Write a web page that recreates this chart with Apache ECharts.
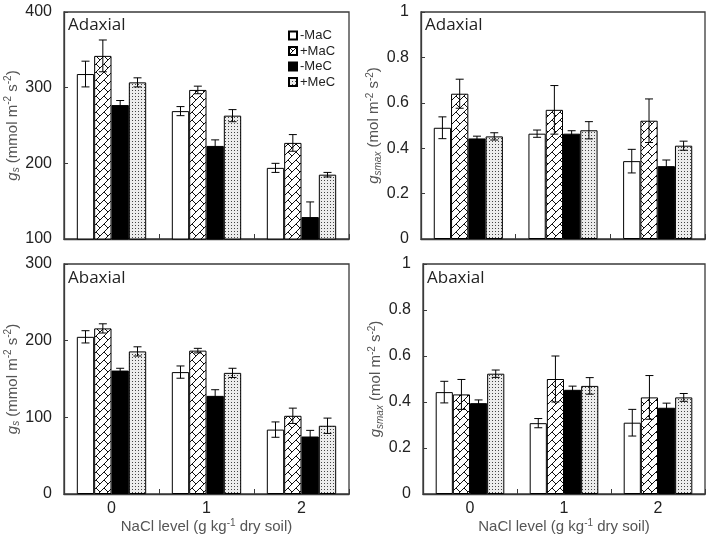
<!DOCTYPE html>
<html>
<head>
<meta charset="utf-8">
<script src="https://cdn.jsdelivr.net/npm/echarts@6/dist/echarts.min.js"></script>
<style>
html,body{margin:0;padding:0;background:#fff;}
#chart{width:714px;height:546px;}
</style>
</head>
<body>
<div id="chart"></div>
<script>
// ---- data ----
const categories = ['0', '1', '2'];
const seriesNames = ['-MaC', '+MaC', '-MeC', '+MeC'];
const yTicksGs1 = [100, 200, 300, 400];
const yTicksGs2 = [0, 100, 200, 300];
const yTicksGsmax = [0, 0.2, 0.4, 0.6, 0.8, 1];

// means: one row per series (-MaC, +MaC, -MeC, +MeC), one value per NaCl level
const gsAdaxialMean = [[318, 269, 194], [342, 297, 227], [277, 223, 129], [307, 263, 185]];
const gsAdaxialErr  = [[17, 6, 6], [21, 5, 11], [6, 8, 20], [6, 8, 3]];
const gsmaxAdaxialMean = [[0.49, 0.464, 0.343], [0.64, 0.569, 0.521], [0.443, 0.464, 0.321], [0.452, 0.479, 0.411]];
const gsmaxAdaxialErr  = [[0.048, 0.016, 0.052], [0.064, 0.107, 0.096], [0.01, 0.013, 0.027], [0.016, 0.038, 0.02]];
const gsAbaxialMean = [[205, 159, 84], [216, 187, 102], [161, 128, 75], [186, 158, 89]];
const gsAbaxialErr  = [[8, 8, 10], [6, 3, 10], [3, 8, 8], [6, 6, 10]];
const gsmaxAbaxialMean = [[0.443, 0.308, 0.31], [0.433, 0.50, 0.42], [0.395, 0.453, 0.375], [0.523, 0.47, 0.42]];
const gsmaxAbaxialErr  = [[0.047, 0.02, 0.058], [0.065, 0.10, 0.095], [0.014, 0.016, 0.02], [0.016, 0.036, 0.017]];

// ---- patterns ----
function zigPattern() {
  const c = document.createElement('canvas'); c.width = 8; c.height = 8;
  const x = c.getContext('2d');
  x.fillStyle = '#fff'; x.fillRect(0, 0, 8, 8);
  x.strokeStyle = '#111'; x.lineWidth = 1;
  x.beginPath();
  x.moveTo(0, 8); x.lineTo(8, 0);
  x.moveTo(0, 0); x.lineTo(4, 4);
  x.stroke();
  return c;
}
function dotPattern() {
  const c = document.createElement('canvas'); c.width = 3; c.height = 3;
  const x = c.getContext('2d');
  x.fillStyle = '#ececec'; x.fillRect(0, 0, 3, 3);
  x.fillStyle = '#444';
  x.fillRect(0, 0, 1, 1);
  return c;
}
const fills = ['#ffffff', {image: zigPattern(), repeat: 'repeat'}, '#000000', {image: dotPattern(), repeat: 'repeat'}];

const GAP = 0.27;
const FONT = 'Liberation Sans, Arial, sans-serif';
const AXC = '#3a3a3a';

const grids = [
  {left: 64, top: 12, width: 285, height: 227},
  {left: 421, top: 12, width: 284, height: 227},
  {left: 64, top: 264, width: 285, height: 230},
  {left: 423, top: 264, width: 282, height: 230}
].map(g => Object.assign({show: true, borderColor: AXC, borderWidth: 1.3, backgroundColor: '#fff'}, g));

const nameRich = {
  b: {fontSize: 15, color: '#555', fontFamily: FONT, lineHeight: 18},
  i: {fontSize: 15, color: '#555', fontFamily: FONT, fontStyle: 'italic', lineHeight: 18},
  sub: {fontSize: 10, color: '#555', fontFamily: FONT, fontStyle: 'italic', verticalAlign: 'bottom', lineHeight: 18, padding: [6, 0, 0, 0]},
  sup: {fontSize: 10, color: '#555', fontFamily: FONT, verticalAlign: 'top', lineHeight: 18, padding: [0, 0, 6, 0]}
};
const gsName = '{i|g}{sub|s}{b| (mmol m}{sup|-2}{b| s}{sup|-2}{b|)}';
const gsmaxName = '{i|g}{sub|smax}{b| (mol m}{sup|-2}{b| s}{sup|-2}{b|)}';
const xName = '{b|NaCl level (g kg}{sup|-1}{b| dry soil)}';

function xAxis(gi, showLabels) {
  return {
    type: 'category', gridIndex: gi, data: categories,
    axisLine: {show: true, lineStyle: {color: AXC, width: 1.3}},
    axisTick: {show: true, inside: true, length: 5, alignWithLabel: false, lineStyle: {color: AXC}},
    axisLabel: {show: showLabels, fontSize: 16, color: '#222', fontFamily: FONT, margin: 7},
    name: showLabels ? xName : '', nameLocation: 'middle', nameGap: 24,
    nameTextStyle: {rich: nameRich}
  };
}
function yAxis(gi, ticks, name, gap) {
  return {
    type: 'value', gridIndex: gi, min: ticks[0], max: ticks[ticks.length - 1],
    interval: ticks[1] - ticks[0],
    axisLine: {show: true, lineStyle: {color: AXC, width: 1.3}},
    axisTick: {show: true, inside: true, length: 4, lineStyle: {color: AXC}},
    splitLine: {show: false},
    axisLabel: {fontSize: 16, color: '#222', fontFamily: FONT, margin: 12},
    name: name, nameLocation: 'middle', nameRotate: 90, nameGap: gap,
    nameTextStyle: {rich: nameRich}
  };
}

const panels = [
  {mean: gsAdaxialMean, err: gsAdaxialErr},
  {mean: gsmaxAdaxialMean, err: gsmaxAdaxialErr},
  {mean: gsAbaxialMean, err: gsAbaxialErr},
  {mean: gsmaxAbaxialMean, err: gsmaxAbaxialErr}
];

const series = [];
panels.forEach((p, gi) => {
  p.mean.forEach((vals, si) => {
    series.push({
      type: 'bar', name: seriesNames[si], xAxisIndex: gi, yAxisIndex: gi,
      data: vals, barGap: '0%', barCategoryGap: (GAP * 100) + '%',
      itemStyle: {color: fills[si], borderColor: '#000', borderWidth: 1},
      emphasis: {disabled: true}, silent: true
    });
  });
  const data = [];
  p.mean.forEach((vals, si) => vals.forEach((v, ci) => data.push([ci, v, p.err[si][ci], si])));
  series.push({
    type: 'custom', xAxisIndex: gi, yAxisIndex: gi, z: 10, silent: true, data: data,
    encode: {x: 0, y: 1},
    renderItem: function (params, api) {
      const ci = api.value(0), v = api.value(1), e = api.value(2), si = api.value(3);
      const band = api.size([1, 0])[0];
      const groupW = band * (1 - GAP);
      const bw = groupW / 4;
      const cx = api.coord([ci, v])[0] - groupW / 2 + (si + 0.5) * bw;
      const yt = api.coord([ci, v + e])[1];
      const yb = api.coord([ci, v - e])[1];
      const cap = 4;
      const st = {stroke: '#000', lineWidth: 1};
      return {
        type: 'group', children: [
          {type: 'line', shape: {x1: cx, y1: yt, x2: cx, y2: yb}, style: st},
          {type: 'line', shape: {x1: cx - cap, y1: yt, x2: cx + cap, y2: yt}, style: st},
          {type: 'line', shape: {x1: cx - cap, y1: yb, x2: cx + cap, y2: yb}, style: st}
        ]
      };
    }
  });
});

const panelLabels = [
  {text: 'Adaxial', x: 68, y: 27},
  {text: 'Adaxial', x: 425, y: 27},
  {text: 'Abaxial', x: 68, y: 280},
  {text: 'Abaxial', x: 427, y: 280}
];

const chart = echarts.init(document.getElementById('chart'), null, {renderer: 'canvas'});
chart.setOption({
  animation: false,
  backgroundColor: '#fff',
  grid: grids,
  xAxis: [xAxis(0, false), xAxis(1, false), xAxis(2, true), xAxis(3, true)],
  yAxis: [
    yAxis(0, yTicksGs1, gsName, 38),
    yAxis(1, yTicksGsmax, gsmaxName, 38),
    yAxis(2, yTicksGs2, gsName, 38),
    yAxis(3, yTicksGsmax, gsmaxName, 38)
  ],
  legend: {
    data: seriesNames, orient: 'vertical', left: 283, top: 24,
    itemWidth: 8, itemHeight: 8, itemGap: 2.5, icon: 'rect',
    textStyle: {fontSize: 13, color: '#222', fontFamily: FONT, padding: [0, 0, 0, -2]},
    selectedMode: false
  },
  graphic: panelLabels.map(l => ({
    type: 'text', left: l.x, top: l.y - 10, z: 20,
    style: {text: l.text, fontSize: 17, fill: '#222', fontFamily: 'Open Sans, sans-serif'}
  })),
  series: series
});
</script>
</body>
</html>
